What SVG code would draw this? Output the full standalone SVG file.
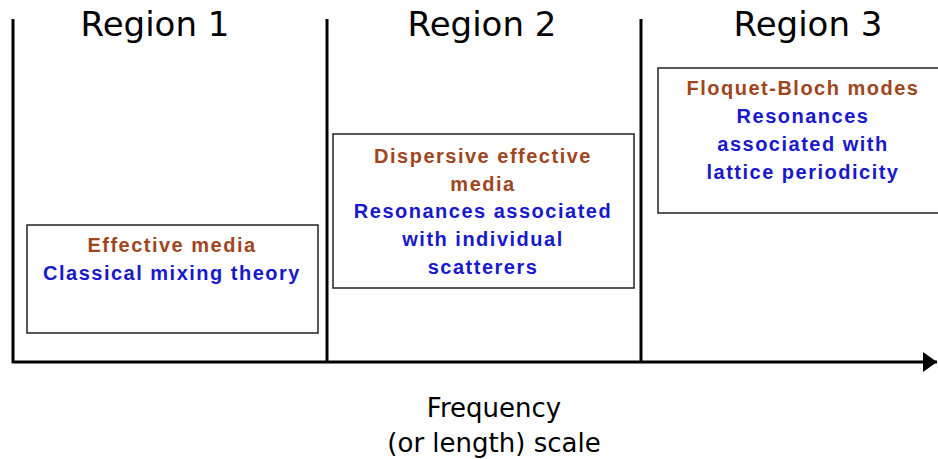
<svg xmlns="http://www.w3.org/2000/svg" width="938" height="459" viewBox="0 0 938 459">
<style>
.axis{stroke:#000;stroke-width:3;fill:none}
.box{fill:#fff;stroke:#222;stroke-width:1.5}
.title{font-family:"DejaVu Sans",sans-serif;font-size:34px;fill:#000;text-anchor:middle}
.cap{font-family:"DejaVu Sans",sans-serif;font-size:26px;fill:#000;text-anchor:middle}
.t{font-family:"Liberation Sans",Arial,sans-serif;font-weight:bold;font-size:20px;letter-spacing:1.5px;text-anchor:middle}
.br{fill:#A0461E}
.bl{fill:#1818CC}
</style>
<defs>
<marker id="arr" markerWidth="14" markerHeight="20" refX="14" refY="10" orient="auto" markerUnits="userSpaceOnUse">
<path d="M0,0 L14,10 L0,20 Z" fill="#000"/>
</marker>
</defs>
<g id="connectors">
<line class="axis" x1="13" y1="19" x2="13" y2="363"/>
<line class="axis" x1="327" y1="19" x2="327" y2="363"/>
<line class="axis" x1="641" y1="19" x2="641" y2="363"/>
<line class="axis" x1="12" y1="362" x2="937" y2="362" marker-end="url(#arr)"/>
</g>
<g id="titles">
<text class="title" x="155" y="36">Region 1</text>
<text class="title" x="482" y="36">Region 2</text>
<text class="title" x="808" y="36">Region 3</text>
</g>
<g id="box1">
<rect class="box" x="27" y="225" width="291" height="108"/>
<text class="t br" x="172" y="252">Effective media</text>
<text class="t bl" x="172" y="280">Classical mixing theory</text>
</g>
<g id="box2">
<rect class="box" x="333" y="134" width="301" height="154"/>
<text class="t br" x="483" y="163">Dispersive effective</text>
<text class="t br" x="483" y="191">media</text>
<text class="t bl" x="483" y="218">Resonances associated</text>
<text class="t bl" x="483" y="246">with individual</text>
<text class="t bl" x="483" y="274">scatterers</text>
</g>
<g id="box3">
<rect class="box" x="658" y="68" width="290" height="145"/>
<text class="t br" x="803" y="95">Floquet-Bloch modes</text>
<text class="t bl" x="803" y="123">Resonances</text>
<text class="t bl" x="803" y="151">associated with</text>
<text class="t bl" x="803" y="179">lattice periodicity</text>
</g>
<g id="caption">
<text class="cap" x="494" y="417">Frequency</text>
<text class="cap" x="494" y="452">(or length) scale</text>
</g>
</svg>
